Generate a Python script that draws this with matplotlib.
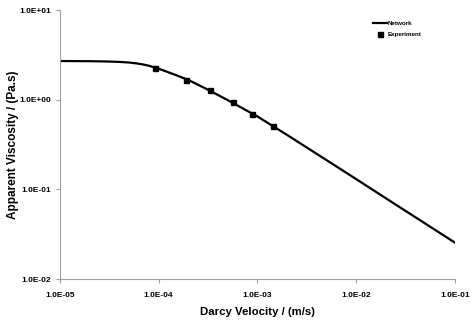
import matplotlib
matplotlib.use("Agg")
import matplotlib.pyplot as plt
from matplotlib.ticker import FuncFormatter, LogLocator, NullLocator

plt.rcParams['font.family'] = ['Liberation Sans', 'DejaVu Sans']
plt.rcParams['font.weight'] = 'bold'

# network model curve
vel_net = [1e-5, 2e-5, 3e-5, 4e-5, 5e-5, 6e-5, 7e-5, 8e-5, 9e-5, 1e-4,
           1.5e-4, 2e-4, 3e-4, 5e-4, 1e-3, 2e-3, 5e-3, 1e-2, 2e-2, 5e-2, 1e-1]
visc_net = [2.70, 2.69, 2.67, 2.64, 2.60, 2.54, 2.47, 2.39, 2.30, 2.22,
            1.88, 1.66, 1.33, 0.99, 0.65, 0.404, 0.212, 0.130, 0.0794,
            0.0415, 0.0254]

# experimental points
vel_exp = [9.2e-5, 1.87e-4, 3.3e-4, 5.6e-4, 8.9e-4, 1.43e-3]
visc_exp = [2.28, 1.68, 1.27, 0.94, 0.70, 0.51]

fig = plt.figure(figsize=(4.75, 3.25), dpi=100)
ax = fig.add_axes([0.126, 0.1415, 0.832, 0.8275])

ax.plot(vel_net, visc_net, color='black', lw=1.6, label='Network', zorder=2)
ax.plot(vel_exp, visc_exp, 's', color='black', ms=3.6, label='Experiment',
        zorder=3)

ax.set_xscale('log')
ax.set_yscale('log')
ax.set_xlim(1e-5, 1e-1)
ax.set_ylim(1e-2, 1e1)

sci = FuncFormatter(lambda v, p: '%.1E' % v)
ax.xaxis.set_major_locator(LogLocator(base=10, numticks=10))
ax.yaxis.set_major_locator(LogLocator(base=10, numticks=10))
ax.xaxis.set_minor_locator(NullLocator())
ax.yaxis.set_minor_locator(NullLocator())
ax.xaxis.set_major_formatter(sci)
ax.yaxis.set_major_formatter(sci)

for s in ['top', 'right']:
    ax.spines[s].set_visible(False)
for s in ['left', 'bottom']:
    ax.spines[s].set_color('#a0a0a0')
    ax.spines[s].set_linewidth(0.8)
ax.tick_params(axis='both', colors='#a0a0a0', length=3, width=0.8,
               labelcolor='black', labelsize=6)
ax.tick_params(axis='x', pad=6)
ax.tick_params(axis='y', pad=3)

ax.set_xlabel('Darcy Velocity / (m/s)', fontsize=8.2, fontweight='bold')
ax.set_ylabel('Apparent Viscosity / (Pa.s)', fontsize=8.5, fontweight='bold')
ax.xaxis.set_label_coords(0.5, -0.104)
ax.yaxis.set_label_coords(-0.104, 0.5)

leg = ax.legend(loc='upper right', bbox_to_anchor=(0.93, 0.98), frameon=False,
                fontsize=4.5, handlelength=2.2, handletextpad=0.2,
                labelspacing=0.9)

fig.savefig('out.png', dpi=100)
